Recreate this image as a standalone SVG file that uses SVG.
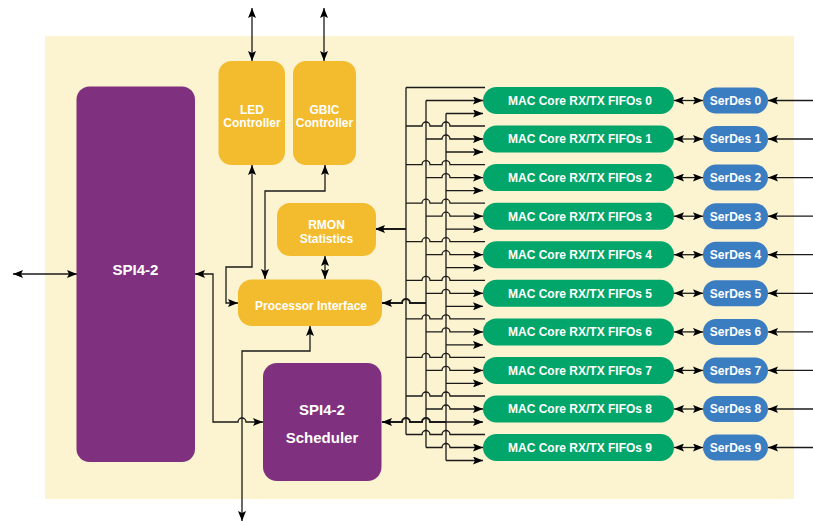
<svg xmlns="http://www.w3.org/2000/svg" width="813" height="523" viewBox="0 0 813 523">
<style>
.bg{fill:#FCF3D0}
.y{fill:#F3BC2E}
.p{fill:#7F3180}
.g{fill:#02A66A}
.b{fill:#3A7DC1}
.t{font-family:"Liberation Sans",Arial,sans-serif;font-weight:bold;fill:#fff;text-anchor:middle}
.s12{font-size:12px}
.s15{font-size:15px}
.c{fill:none;stroke:#1a1a1a;stroke-width:1.3}
.th{stroke-width:2}
.a{marker-end:url(#ah)}
.aa{marker-end:url(#ah);marker-start:url(#ah)}
</style>
<defs>
<marker id="ah" viewBox="0 0 10 8" refX="10" refY="4" markerWidth="10" markerHeight="8" markerUnits="userSpaceOnUse" orient="auto-start-reverse">
<path d="M0,0 L10,4 L0,8 L2,4 z" fill="#000"/>
</marker>
</defs>
<rect class="bg" x="45" y="36" width="749" height="463"/>

<g id="connectors">
<!-- external -->
<path class="c aa" d="M13,274 H77"/>
<path class="c aa" d="M252,8 V61"/>
<path class="c aa" d="M324,8 V61"/>
<!-- LED to PI -->
<path class="c aa" d="M252,165 V267 H226 V303 H238"/>
<!-- GBIC to PI -->
<path class="c aa" d="M325,165 V191 H265 V279"/>
<!-- RMON - PI -->
<path class="c aa" d="M325,256 V279"/>
<!-- PI bottom -->
<path class="c aa" d="M310,326 V351 H242 V521"/>
<!-- SPI4-2 to Scheduler -->
<path class="c aa" d="M195,274 H213 V422 H238 a4,4 0 0 1 8,0 H263"/>
<!-- bus verticals -->
<path class="c" d="M406,87.5 V434.5"/>
<path class="c" d="M426,100.5 V447.5"/>
<path class="c" d="M446,113.5 V460.5"/>
<!-- bus to RMON/PI/Scheduler -->
<path class="c th a" d="M406,229 H375"/>
<path class="c th a" d="M426,303 H410 a4,4 0 0 0 -8,0 H382"/>
<path class="c th a" d="M446,422 H430 a4,4 0 0 0 -8,0 H410 a4,4 0 0 0 -8,0 H382"/>
<!-- row 0 -->
<path class="c" d="M406,87.5 H485"/>
<path class="c a" d="M426,100.5 H483"/>
<path class="c a" d="M446,113.5 H483"/>
<!-- rows 1-9 -->
<path class="c" d="M406,126 H422 a4,4 0 0 1 8,0 H442 a4,4 0 0 1 8,0 H485"/>
<path class="c a" d="M426,139 H442 a4,4 0 0 1 8,0 H483"/>
<path class="c a" d="M446,152 H483"/>
<path class="c" d="M406,164.6 H422 a4,4 0 0 1 8,0 H442 a4,4 0 0 1 8,0 H485"/>
<path class="c a" d="M426,177.6 H442 a4,4 0 0 1 8,0 H483"/>
<path class="c a" d="M446,190.6 H483"/>
<path class="c" d="M406,203.2 H422 a4,4 0 0 1 8,0 H442 a4,4 0 0 1 8,0 H485"/>
<path class="c a" d="M426,216.2 H442 a4,4 0 0 1 8,0 H483"/>
<path class="c a" d="M446,229.2 H483"/>
<path class="c" d="M406,241.7 H422 a4,4 0 0 1 8,0 H442 a4,4 0 0 1 8,0 H485"/>
<path class="c a" d="M426,254.7 H442 a4,4 0 0 1 8,0 H483"/>
<path class="c a" d="M446,267.7 H483"/>
<path class="c" d="M406,280.3 H422 a4,4 0 0 1 8,0 H442 a4,4 0 0 1 8,0 H485"/>
<path class="c a" d="M426,293.3 H442 a4,4 0 0 1 8,0 H483"/>
<path class="c a" d="M446,306.3 H483"/>
<path class="c" d="M406,318.9 H422 a4,4 0 0 1 8,0 H442 a4,4 0 0 1 8,0 H485"/>
<path class="c a" d="M426,331.9 H442 a4,4 0 0 1 8,0 H483"/>
<path class="c a" d="M446,344.9 H483"/>
<path class="c" d="M406,357.4 H422 a4,4 0 0 1 8,0 H442 a4,4 0 0 1 8,0 H485"/>
<path class="c a" d="M426,370.4 H442 a4,4 0 0 1 8,0 H483"/>
<path class="c a" d="M446,383.4 H483"/>
<path class="c" d="M406,396 H422 a4,4 0 0 1 8,0 H442 a4,4 0 0 1 8,0 H485"/>
<path class="c a" d="M426,409 H442 a4,4 0 0 1 8,0 H483"/>
<path class="c a" d="M446,422 H483"/>
<path class="c" d="M406,434.5 H422 a4,4 0 0 1 8,0 H442 a4,4 0 0 1 8,0 H485"/>
<path class="c a" d="M426,447.5 H442 a4,4 0 0 1 8,0 H483"/>
<path class="c a" d="M446,460.5 H483"/>
<!-- MAC - SerDes and external -->
<path class="c aa" d="M674,100.5 H703"/><path class="c a" d="M813,100.5 H768"/>
<path class="c aa" d="M674,139 H703"/><path class="c a" d="M813,139 H768"/>
<path class="c aa" d="M674,177.6 H703"/><path class="c a" d="M813,177.6 H768"/>
<path class="c aa" d="M674,216.2 H703"/><path class="c a" d="M813,216.2 H768"/>
<path class="c aa" d="M674,254.7 H703"/><path class="c a" d="M813,254.7 H768"/>
<path class="c aa" d="M674,293.3 H703"/><path class="c a" d="M813,293.3 H768"/>
<path class="c aa" d="M674,331.9 H703"/><path class="c a" d="M813,331.9 H768"/>
<path class="c aa" d="M674,370.4 H703"/><path class="c a" d="M813,370.4 H768"/>
<path class="c aa" d="M674,409 H703"/><path class="c a" d="M813,409 H768"/>
<path class="c aa" d="M674,447.5 H703"/><path class="c a" d="M813,447.5 H768"/>
</g>

<g id="spi42"><rect class="p" x="76.5" y="86.5" width="118.5" height="375.5" rx="13"/><text class="t s15" x="135.5" y="275">SPI4-2</text></g>
<g id="led"><rect class="y" x="218.5" y="61" width="66.5" height="104" rx="13"/><text class="t s12" x="252" y="114">LED</text><text class="t s12" x="252" y="127">Controller</text></g>
<g id="gbic"><rect class="y" x="293" y="61" width="63" height="104" rx="13"/><text class="t s12" x="324.5" y="114">GBIC</text><text class="t s12" x="324.5" y="127">Controller</text></g>
<g id="rmon"><rect class="y" x="277" y="203" width="99" height="53" rx="13"/><text class="t s12" x="326.5" y="229">RMON</text><text class="t s12" x="326.5" y="243">Statistics</text></g>
<g id="pi"><rect class="y" x="238" y="279.5" width="144" height="46.5" rx="14"/><text class="t s12" x="311" y="310">Processor Interface</text></g>
<g id="sched"><rect class="p" x="263" y="363" width="118.5" height="118" rx="14"/><text class="t s15" x="322" y="415">SPI4-2</text><text class="t s15" x="322" y="443">Scheduler</text></g>

<g id="mac0"><rect class="g" x="483" y="87" width="191" height="27" rx="13.5"/><text class="t s12" x="580" y="104.8">MAC Core RX/TX FIFOs 0</text></g>
<g id="mac1"><rect class="g" x="483" y="125.5" width="191" height="27" rx="13.5"/><text class="t s12" x="580" y="143.3">MAC Core RX/TX FIFOs 1</text></g>
<g id="mac2"><rect class="g" x="483" y="164.1" width="191" height="27" rx="13.5"/><text class="t s12" x="580" y="181.9">MAC Core RX/TX FIFOs 2</text></g>
<g id="mac3"><rect class="g" x="483" y="202.7" width="191" height="27" rx="13.5"/><text class="t s12" x="580" y="220.5">MAC Core RX/TX FIFOs 3</text></g>
<g id="mac4"><rect class="g" x="483" y="241.2" width="191" height="27" rx="13.5"/><text class="t s12" x="580" y="259">MAC Core RX/TX FIFOs 4</text></g>
<g id="mac5"><rect class="g" x="483" y="279.8" width="191" height="27" rx="13.5"/><text class="t s12" x="580" y="297.6">MAC Core RX/TX FIFOs 5</text></g>
<g id="mac6"><rect class="g" x="483" y="318.4" width="191" height="27" rx="13.5"/><text class="t s12" x="580" y="336.2">MAC Core RX/TX FIFOs 6</text></g>
<g id="mac7"><rect class="g" x="483" y="356.9" width="191" height="27" rx="13.5"/><text class="t s12" x="580" y="374.7">MAC Core RX/TX FIFOs 7</text></g>
<g id="mac8"><rect class="g" x="483" y="395.5" width="191" height="27" rx="13.5"/><text class="t s12" x="580" y="413.3">MAC Core RX/TX FIFOs 8</text></g>
<g id="mac9"><rect class="g" x="483" y="434" width="191" height="27" rx="13.5"/><text class="t s12" x="580" y="451.8">MAC Core RX/TX FIFOs 9</text></g>

<g id="serdes0"><rect class="b" x="703" y="87.5" width="65" height="26" rx="13"/><text class="t s12" x="735.5" y="104.8">SerDes 0</text></g>
<g id="serdes1"><rect class="b" x="703" y="126" width="65" height="26" rx="13"/><text class="t s12" x="735.5" y="143.3">SerDes 1</text></g>
<g id="serdes2"><rect class="b" x="703" y="164.6" width="65" height="26" rx="13"/><text class="t s12" x="735.5" y="181.9">SerDes 2</text></g>
<g id="serdes3"><rect class="b" x="703" y="203.2" width="65" height="26" rx="13"/><text class="t s12" x="735.5" y="220.5">SerDes 3</text></g>
<g id="serdes4"><rect class="b" x="703" y="241.7" width="65" height="26" rx="13"/><text class="t s12" x="735.5" y="259">SerDes 4</text></g>
<g id="serdes5"><rect class="b" x="703" y="280.3" width="65" height="26" rx="13"/><text class="t s12" x="735.5" y="297.6">SerDes 5</text></g>
<g id="serdes6"><rect class="b" x="703" y="318.9" width="65" height="26" rx="13"/><text class="t s12" x="735.5" y="336.2">SerDes 6</text></g>
<g id="serdes7"><rect class="b" x="703" y="357.4" width="65" height="26" rx="13"/><text class="t s12" x="735.5" y="374.7">SerDes 7</text></g>
<g id="serdes8"><rect class="b" x="703" y="396" width="65" height="26" rx="13"/><text class="t s12" x="735.5" y="413.3">SerDes 8</text></g>
<g id="serdes9"><rect class="b" x="703" y="434.5" width="65" height="26" rx="13"/><text class="t s12" x="735.5" y="451.8">SerDes 9</text></g>
</svg>
